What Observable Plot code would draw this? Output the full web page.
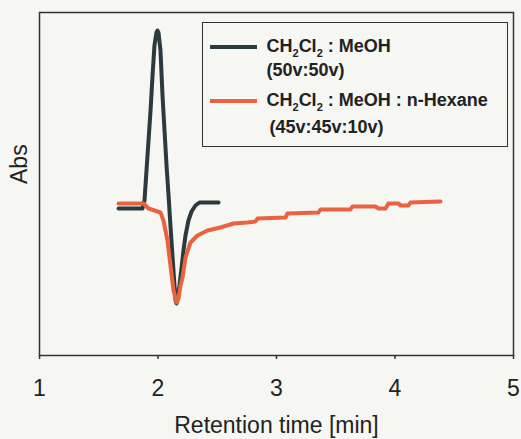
<!DOCTYPE html>
<html>
<head>
<meta charset="utf-8">
<script src="https://cdn.jsdelivr.net/npm/d3@7"></script>
<script src="https://cdn.jsdelivr.net/npm/@observablehq/plot@0.6"></script>
<style>
  html, body { margin: 0; padding: 0; background: #f6f6f3; }
  #wrap { position: relative; width: 521px; height: 439px; font-family: "Liberation Sans", Arial, sans-serif; }
  #legend { position: absolute; left: 202px; top: 22px; width: 306px; height: 125px; box-sizing: border-box;
            border: 1.5px solid #333; background: #f6f6f3; }
  .sw { position: absolute; left: 6.5px; width: 47px; height: 4px; }
  .lt { position: absolute; left: 63.5px; font-weight: bold; font-size: 18px; line-height: 18px; color: #222; white-space: nowrap; }
  .lt .s { font-size: 11px; position: relative; top: 5px; }
</style>
</head>
<body>
<div id="wrap"></div>
<script>
// x ticks
const xTicks = [1, 2, 3, 4, 5];

// Series 1: CH2Cl2 : MeOH (50v:50v)
const blackTime = [1.667, 1.869, 1.886, 1.903, 1.920, 1.937, 1.954, 1.970, 1.987, 1.996, 2.004, 2.021, 2.038, 2.055, 2.072, 2.089, 2.105, 2.122, 2.139, 2.148, 2.156, 2.165, 2.181, 2.198, 2.215, 2.232, 2.257, 2.283, 2.316, 2.350, 2.511];
const blackAbs  = [-0.03, -0.03, 0.05, 0.35, 0.65, 0.95, 1.30, 1.60, 1.73, 1.75, 1.73, 1.55, 1.10, 0.75, 0.40, 0.10, -0.20, -0.50, -0.80, -0.95, -0.98, -0.93, -0.80, -0.63, -0.45, -0.30, -0.15, -0.06, 0.00, 0.03, 0.03];

// Series 2: CH2Cl2 : MeOH : n-Hexane (45v:45v:10v)
const orangeTime = [1.667, 1.878, 1.920, 2.021, 2.046, 2.063, 2.080, 2.105, 2.131, 2.156, 2.173, 2.190, 2.207, 2.232, 2.274, 2.333, 2.418, 2.527, 2.637, 2.755, 2.823, 2.840, 3.076, 3.093, 3.354, 3.371, 3.624, 3.641, 3.835, 3.861, 3.920, 3.945, 4.030, 4.046, 4.114, 4.131, 4.384];
const orangeAbs  = [0.02, 0.02, -0.03, -0.07, -0.15, -0.25, -0.35, -0.60, -0.85, -0.97, -0.93, -0.80, -0.72, -0.52, -0.37, -0.30, -0.25, -0.22, -0.18, -0.17, -0.16, -0.13, -0.12, -0.08, -0.07, -0.04, -0.04, -0.01, -0.01, -0.03, -0.03, 0.02, 0.02, 0.00, 0.00, 0.03, 0.04];

const seriesColors = ["#2b3a3c", "#e8633e"];
const legendLines = [
  {html: "CH<span class='s'>2</span>Cl<span class='s'>2</span> : MeOH", top: 14.3, swatch: 0, swatchTop: 21.5},
  {html: "(50v:50v)", top: 38.3},
  {html: "CH<span class='s'>2</span>Cl<span class='s'>2</span> : MeOH : n-Hexane", top: 68.3, swatch: 1, swatchTop: 75.5},
  {html: "(45v:45v:10v)", top: 95.3, indent: 3}
];

const black = blackTime.map((t, i) => ({t, a: blackAbs[i]}));
const orange = orangeTime.map((t, i) => ({t, a: orangeAbs[i]}));

const chart = Plot.plot({
  width: 521,
  height: 439,
  marginLeft: 39,
  marginRight: 8,
  marginTop: 12,
  marginBottom: 84,
  style: {background: "#f6f6f3", fontFamily: "Liberation Sans, Arial, sans-serif", color: "#222", overflow: "visible"},
  x: {domain: [1, 5]},
  y: {domain: [-1.5, 1.93], axis: null},
  marks: [
    Plot.frame({stroke: "#333", strokeWidth: 1.5}),
    Plot.axisX(xTicks, {tickSize: 4, tickPadding: 20, tickFormat: "d", label: null, fontSize: 23, stroke: "#333", strokeWidth: 1.5, fill: "#222"}),
    Plot.line(black, {x: "t", y: "a", stroke: seriesColors[0], strokeWidth: 4, strokeLinejoin: "round"}),
    Plot.line(orange, {x: "t", y: "a", stroke: seriesColors[1], strokeWidth: 4, strokeLinejoin: "round"}),
    Plot.text(["Retention time [min]"], {frameAnchor: "bottom", dy: 70, lineAnchor: "middle", fontSize: 23, fill: "#222"}),
    Plot.text(["Abs"], {frameAnchor: "left", dx: -19.5, rotate: -90, lineAnchor: "middle", fontSize: 23, fill: "#222"})
  ]
});

const wrap = document.getElementById("wrap");
wrap.appendChild(chart);

const legend = document.createElement("div");
legend.id = "legend";
for (const ln of legendLines) {
  if (ln.swatch !== undefined) {
    const sw = document.createElement("span");
    sw.className = "sw";
    sw.style.top = ln.swatchTop + "px";
    sw.style.background = seriesColors[ln.swatch];
    legend.appendChild(sw);
  }
  const t = document.createElement("div");
  t.className = "lt";
  t.style.top = ln.top + "px";
  if (ln.indent) t.style.left = (63.5 + ln.indent) + "px";
  t.innerHTML = ln.html;
  legend.appendChild(t);
}
wrap.appendChild(legend);
</script>
</body>
</html>
